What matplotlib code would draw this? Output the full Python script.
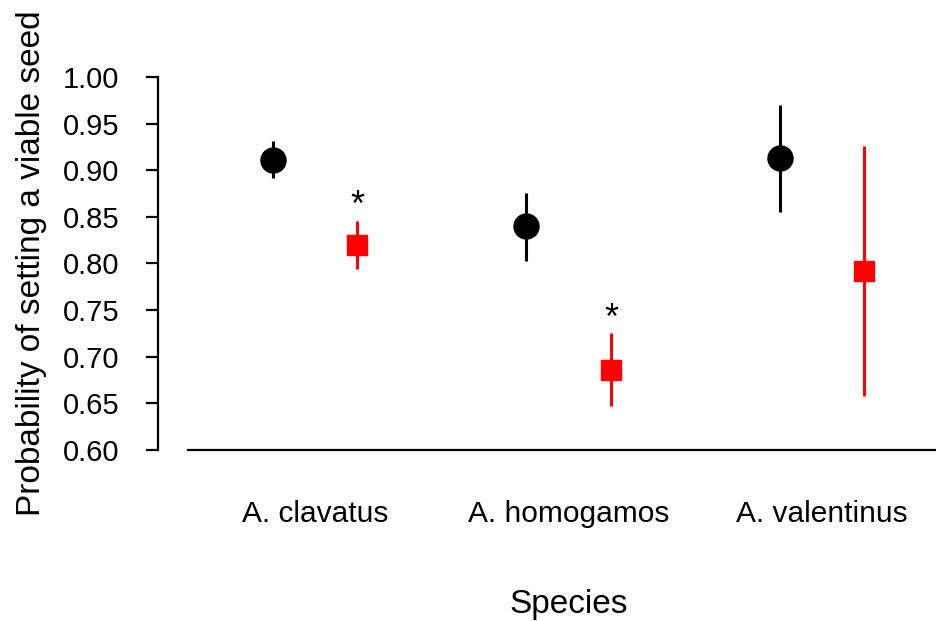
import numpy as np
import matplotlib
matplotlib.use('Agg')
import matplotlib.pyplot as plt

plt.rcParams['font.family'] = ['Liberation Sans', 'DejaVu Sans']

# values
species = ['A. clavatus', 'A. homogamos', 'A. valentinus']
ctrl_mean = [0.911, 0.840, 0.913]
ctrl_low = [0.892, 0.803, 0.855]
ctrl_high = [0.931, 0.876, 0.970]
trt_mean = [0.820, 0.686, 0.792]
trt_low = [0.794, 0.647, 0.658]
trt_high = [0.846, 0.725, 0.926]
signif = [True, True, False]

x = np.arange(1, len(species) + 1)
off = 1 / 6

fig = plt.figure(figsize=(9.36, 6.21), dpi=100)
ax = fig.add_axes([158 / 936, 1 - 460 / 621, 804 / 936, 450 / 621])

ctrl_mean = np.array(ctrl_mean)
trt_mean = np.array(trt_mean)
ax.errorbar(x - off, ctrl_mean,
            yerr=[ctrl_mean - np.array(ctrl_low), np.array(ctrl_high) - ctrl_mean],
            fmt='o', color='black', ms=18, elinewidth=2.2, capsize=0)
ax.errorbar(x + off, trt_mean,
            yerr=[trt_mean - np.array(trt_low), np.array(trt_high) - trt_mean],
            fmt='s', color='red', ms=14.5, elinewidth=2.2, capsize=0)

# asterisks above the significant ones
for xi, hi, s in zip(x + off, trt_high, signif):
    if s:
        ax.text(xi, hi + 0.0155, '*', ha='center', va='center', fontsize=26)

ax.set_xlim(0.38, 0.38 + 804 / 253.5)
ax.set_ylim(0.6 - 10 / 932.5, 1 + 67 / 932.5)
ax.set_yticks(np.arange(0.60, 1.001, 0.05))
ax.set_yticklabels([f'{v:.2f}' for v in np.arange(0.60, 1.001, 0.05)])
ax.set_xticks(x)
ax.set_xticklabels(species)

for s in ['top', 'right']:
    ax.spines[s].set_visible(False)
ax.spines['left'].set_bounds(0.6, 1.0)
ax.spines['left'].set_linewidth(1.6)
ax.spines['bottom'].set_position(('data', 0.6))
ax.spines['bottom'].set_bounds(0.5, 3.5)
ax.spines['bottom'].set_linewidth(1.6)

ax.tick_params(axis='y', length=9, width=1.6, pad=19, labelsize=21)
ax.tick_params(axis='x', length=0, pad=36, labelsize=21.5)

fig.text(32 / 936, 1 - 263 / 621, 'Probability of setting a viable seed',
         rotation=90, ha='center', va='center', fontsize=24)
fig.text(569 / 936, 1 - 605 / 621, 'Species', ha='center', va='center', fontsize=24)

fig.savefig('out.png', dpi=100)
